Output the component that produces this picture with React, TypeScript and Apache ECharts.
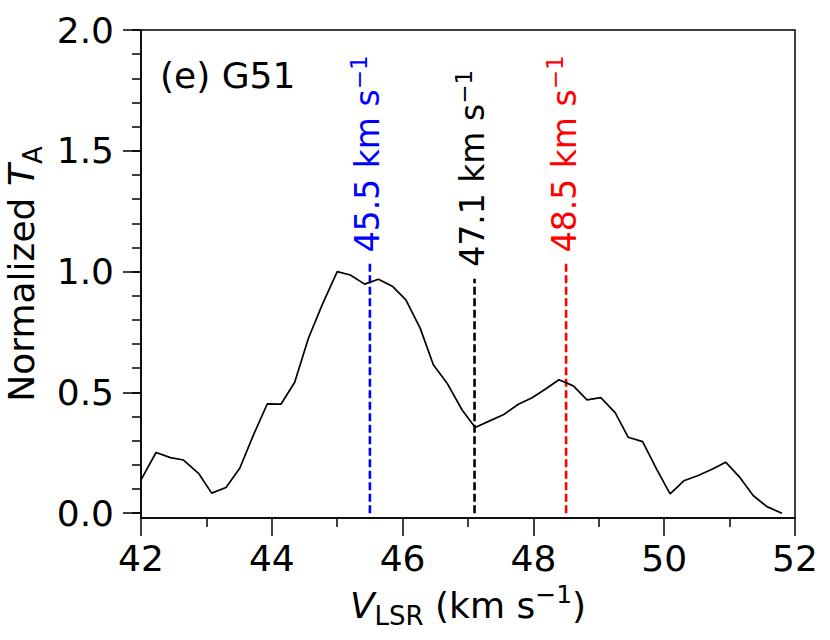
import React, { useEffect, useRef } from "react";
import * as echarts from "echarts";

const velocity = [42.0, 42.23, 42.45, 42.65, 42.88, 43.08, 43.3, 43.51, 43.72, 43.93, 44.14, 44.35, 44.56, 44.77, 45.0, 45.2, 45.42, 45.63, 45.85, 46.05, 46.27, 46.47, 46.68, 46.91, 47.11, 47.33, 47.54, 47.77, 47.98, 48.18, 48.39, 48.61, 48.82, 49.03, 49.25, 49.45, 49.67, 49.89, 50.09, 50.3, 50.52, 50.74, 50.94, 51.16, 51.36, 51.57, 51.8];
const intensity = [0.138, 0.251, 0.23, 0.22, 0.165, 0.083, 0.106, 0.186, 0.324, 0.452, 0.451, 0.542, 0.724, 0.862, 1.0, 0.986, 0.948, 0.968, 0.938, 0.883, 0.765, 0.614, 0.538, 0.427, 0.355, 0.382, 0.407, 0.451, 0.478, 0.513, 0.552, 0.527, 0.469, 0.478, 0.416, 0.314, 0.296, 0.179, 0.08, 0.134, 0.156, 0.183, 0.211, 0.147, 0.073, 0.027, 0.0];

const markVelocities = [45.5, 47.1, 48.5];
const markTops = [1.04, 0.97, 1.04];
const markLabelBase = [1.08, 1.02, 1.08];
const markColors = ["#0000ff", "#000000", "#ff0000"];
const markLabels = ["45.5", "47.1", "48.5"];

const yMajorTicks = [0, 0.5, 1.0, 1.5, 2.0];
const yMinorTicks = [0, 0.1, 0.2, 0.3, 0.4, 0.5, 0.6, 0.7, 0.8, 0.9, 1.0, 1.1, 1.2, 1.3, 1.4, 1.5, 1.6, 1.7, 1.8, 1.9, 2.0];
const panelLabel = "(e) G51";

const FONT = "DejaVu Sans";

export default function App() {
  const ref = useRef<HTMLDivElement>(null);
  useEffect(() => {
    if (!ref.current) return;
    const chart = echarts.init(ref.current, null, { renderer: "svg" });
    const axisLineStyle = { color: "#000", width: 1.5 };
    const nameRich = {
      n: { fontSize: 36, fontFamily: FONT, color: "#000", verticalAlign: "bottom", padding: [0, 0, 6, 0] },
      it: { fontSize: 36, fontFamily: FONT, color: "#000", fontStyle: "italic", verticalAlign: "bottom", padding: [0, 0, 6, 0] },
      sub: { fontSize: 26, fontFamily: FONT, color: "#000", verticalAlign: "bottom" },
      sup: { fontSize: 25, fontFamily: FONT, color: "#000", verticalAlign: "bottom", padding: [0, 0, 22, 0] },
    };
    const series: any[] = [
      {
        type: "line",
        data: velocity.map((v, i) => [v, intensity[i]]),
        showSymbol: false,
        symbol: "none",
        lineStyle: { color: "#000", width: 1.7 },
        clip: true,
        z: 3,
      },
    ];
    markVelocities.forEach((v, i) => {
      series.push({
        type: "line",
        data: [
          [v, 0],
          [v, markTops[i]],
        ],
        showSymbol: false,
        symbol: "none",
        lineStyle: { color: markColors[i], width: 2.6, type: [8, 3.5] },
        z: 2,
      });
    });
    chart.setOption({
      animation: false,
      grid: {
        left: 141,
        right: 35,
        top: 30,
        bottom: 122,
        show: true,
        borderColor: "#000",
        borderWidth: 1.5,
        backgroundColor: "transparent",
        containLabel: false,
        outerBoundsMode: "none",
      },
      xAxis: {
        type: "value",
        min: 42,
        max: 52,
        interval: 2,
        axisLine: { show: true, onZero: false, lineStyle: axisLineStyle },
        axisTick: { show: true, inside: false, length: 18, lineStyle: axisLineStyle },
        minorTick: { show: true, splitNumber: 2, length: 9, lineStyle: axisLineStyle },
        splitLine: { show: false },
        minorSplitLine: { show: false },
        axisLabel: { color: "#000", fontSize: 36, fontFamily: FONT, margin: 22 },
        name: "{it|V}{sub|LSR}{n| (km s}{sup|−1}{n|)}",
        nameLocation: "middle",
        nameGap: 64,
        nameTextStyle: { fontSize: 36, fontFamily: FONT, color: "#000", rich: nameRich },
      },
      yAxis: [
        {
          type: "value",
          min: -0.02,
          max: 2,
          axisLine: { show: true, onZero: false, lineStyle: axisLineStyle },
          axisTick: { show: true, inside: false, length: 18, lineStyle: axisLineStyle, customValues: yMajorTicks },
          axisLabel: {
            color: "#000",
            fontSize: 36,
            fontFamily: FONT,
            margin: 27,
            customValues: yMajorTicks,
            formatter: (v: number) => v.toFixed(1),
          },
          splitLine: { show: false },
          name: "{n|Normalized }{it|T}{sub|A}",
          nameLocation: "middle",
          nameRotate: 90,
          nameGap: 91,
          nameTextStyle: { fontSize: 36, fontFamily: FONT, color: "#000", rich: nameRich },
        },
        {
          type: "value",
          min: -0.02,
          max: 2,
          position: "left",
          axisLine: { show: false },
          axisTick: { show: true, inside: false, length: 9, lineStyle: axisLineStyle, customValues: yMinorTicks },
          axisLabel: { show: false },
          splitLine: { show: false },
        },
      ],
      series,
    });

    const graphics: any[] = [
      {
        type: "text",
        x: 160,
        y: 75,
        style: {
          text: panelLabel,
          fill: "#000",
          fontSize: 36,
          fontFamily: FONT,
          textAlign: "left",
          textVerticalAlign: "middle",
        },
        z: 10,
      },
    ];
    markVelocities.forEach((v, i) => {
      const p = chart.convertToPixel({ gridIndex: 0 }, [v, markLabelBase[i]]) as number[];
      graphics.push({
        type: "text",
        x: p[0] - 4,
        y: p[1],
        rotation: Math.PI / 2,
        style: {
          text: `{n|${markLabels[i]} km s}{s|−1}`,
          textAlign: "left",
          textVerticalAlign: "middle",
          rich: {
            n: { fontSize: 33, fontFamily: FONT, fill: markColors[i], verticalAlign: "bottom", padding: [0, 0, 0, 0] },
            s: { fontSize: 23, fontFamily: FONT, fill: markColors[i], verticalAlign: "bottom", padding: [0, 0, 14, 0] },
          },
        },
        z: 10,
      });
    });
    chart.setOption({ graphic: graphics });

    return () => chart.dispose();
  }, []);
  return (
    <div
      ref={ref}
      style={{ position: "fixed", left: 0, top: 0, width: 830, height: 640, background: "#fff" }}
    />
  );
}
